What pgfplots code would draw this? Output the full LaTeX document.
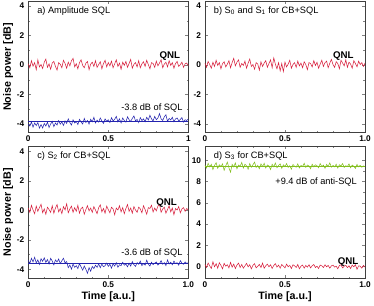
\documentclass[border=0pt]{standalone}
\usepackage{pgfplots}
\pgfplotsset{compat=1.18}
\usepackage{pgfplotstable}
\usepgfplotslibrary{groupplots}
\usepackage{fontspec}
\setmainfont{Liberation Sans}
\definecolor{qred}{RGB}{215,30,60}
\definecolor{sblue}{RGB}{35,35,175}
\definecolor{agreen}{RGB}{130,190,30}

\pgfplotstableread[header=false,row sep=\\]{
0.08\\-0.19\\0.29\\-0.08\\0.16\\-0.32\\0.35\\-0.13\\0.03\\-0.24\\
0.19\\0.40\\-0.16\\0.08\\-0.29\\0.13\\0.24\\-0.10\\-0.35\\0.16\\
0.05\\-0.19\\0.32\\0.10\\-0.22\\0.19\\-0.06\\0.29\\0.45\\-0.13\\
0.08\\-0.26\\0.16\\0.35\\-0.03\\-0.19\\0.13\\0.24\\-0.32\\0.06\\
0.19\\-0.10\\0.29\\-0.16\\0.03\\0.22\\-0.26\\0.10\\0.32\\-0.13\\
0.16\\-0.06\\0.26\\-0.19\\0.08\\0.35\\-0.10\\0.13\\-0.29\\0.19\\
-0.03\\0.24\\-0.16\\0.10\\0.38\\-0.22\\0.05\\0.16\\-0.13\\0.29\\
-0.19\\0.08\\0.22\\-0.10\\0.32\\0.03\\-0.26\\0.16\\0.10\\-0.16\\
0.26\\-0.06\\0.13\\0.35\\-0.19\\0.06\\0.19\\-0.13\\0.29\\-0.03\\
0.16\\-0.22\\0.10\\0.24\\-0.10\\0.03\\0.19\\-0.16\\0.08\\0.13\\-0.06\\
}\qa

\pgfplotstableread[header=false,row sep=\\]{
-4.01\\-4.15\\-3.87\\-4.22\\-3.94\\-4.11\\-3.91\\-4.29\\-4.05\\-4.28\\
-3.97\\-4.15\\-3.88\\-4.25\\-4.01\\-3.83\\-4.19\\-3.94\\-4.08\\-3.77\\
-4.02\\-3.87\\-4.11\\-3.80\\-3.97\\-3.66\\-3.91\\-4.08\\-3.73\\-3.94\\
-3.83\\-4.05\\-3.69\\-3.87\\-4.01\\-3.63\\-3.91\\-3.77\\-4.02\\-3.69\\
-3.86\\-3.55\\-3.94\\-3.74\\-3.88\\-3.60\\-3.80\\-3.97\\-3.66\\-3.83\\
-3.72\\-3.91\\-3.58\\-3.80\\-3.69\\-3.49\\-3.86\\-3.66\\-3.94\\-3.60\\
-3.77\\-3.88\\-3.52\\-3.72\\-3.83\\-3.63\\-3.46\\-3.80\\-3.69\\-3.91\\
-3.58\\-3.77\\-3.66\\-3.86\\-3.55\\-3.74\\-3.41\\-3.66\\-3.80\\-3.49\\
-3.72\\-3.60\\-3.30\\-3.66\\-3.77\\-3.52\\-3.38\\-3.83\\-3.63\\-3.74\\
-3.55\\-3.86\\-3.66\\-3.60\\-3.80\\-3.69\\-3.58\\-3.88\\-3.72\\-3.77\\-3.66\\
}\ba

\pgfplotstableread[header=false,row sep=\\]{
0.13\\-0.16\\0.24\\0.03\\-0.22\\0.19\\-0.10\\0.32\\-0.03\\0.16\\
-0.26\\0.10\\0.22\\-0.13\\0.06\\0.29\\-0.19\\0.16\\0.45\\-0.06\\
0.19\\0.35\\-0.16\\0.10\\-0.03\\0.26\\-0.22\\0.13\\0.40\\-0.10\\
0.03\\-0.29\\0.16\\0.06\\-0.35\\0.22\\-0.10\\0.13\\0.29\\-0.16\\
0.10\\0.35\\-0.19\\0.48\\0.06\\-0.26\\0.16\\-0.40\\0.10\\-0.45\\
0.19\\-0.13\\0.06\\0.32\\-0.22\\0.03\\0.16\\-0.16\\0.26\\-0.06\\
0.13\\-0.19\\0.22\\0.03\\-0.32\\0.16\\0.10\\-0.13\\0.29\\-0.03\\
0.19\\-0.22\\0.06\\0.32\\-0.10\\0.16\\0.26\\-0.19\\0.13\\0.38\\
0.03\\-0.16\\0.22\\0.10\\-0.26\\0.32\\0.13\\-0.06\\0.35\\-0.16\\
0.19\\0.06\\-0.22\\0.29\\0.10\\-0.13\\0.26\\0.03\\0.16\\-0.10\\0.13\\
}\qb

\pgfplotstableread[header=false,row sep=\\]{
0.16\\-0.13\\0.35\\0.03\\-0.22\\0.29\\-0.06\\0.19\\0.42\\-0.16\\
0.10\\-0.26\\0.22\\0.06\\-0.13\\0.32\\-0.19\\0.16\\0.40\\-0.10\\
0.13\\-0.22\\0.26\\0.03\\0.45\\-0.16\\0.10\\0.29\\-0.13\\0.19\\
-0.06\\0.35\\-0.19\\0.13\\0.22\\-0.26\\0.06\\0.32\\-0.03\\0.16\\
-0.13\\0.26\\0.03\\-0.22\\0.19\\0.38\\-0.10\\0.13\\-0.19\\0.29\\
0.06\\-0.16\\0.22\\0.10\\-0.29\\0.16\\0.03\\0.32\\-0.10\\0.19\\
-0.22\\0.13\\0.40\\-0.06\\0.16\\-0.19\\0.26\\0.03\\-0.13\\0.22\\
0.10\\-0.16\\0.32\\0.06\\-0.26\\0.19\\0.13\\0.35\\-0.10\\0.16\\
-0.03\\0.29\\0.42\\-0.13\\0.10\\0.22\\-0.19\\0.06\\0.32\\-0.10\\
0.16\\-0.29\\0.13\\0.03\\0.26\\-0.16\\0.10\\0.19\\-0.06\\0.13\\0.03\\
}\qc

\pgfplotstableread[header=false,row sep=\\]{
-3.39\\-3.60\\-3.25\\-3.50\\-3.18\\-3.56\\-3.36\\-3.67\\-3.28\\-3.46\\
-3.22\\-3.53\\-3.33\\-3.64\\-3.25\\-3.44\\-3.70\\-3.36\\-3.50\\-3.30\\
-3.61\\-3.42\\-3.25\\-3.56\\-3.47\\-3.89\\-3.71\\-3.99\\-3.64\\-3.86\\
-3.75\\-3.95\\-3.61\\-3.84\\-4.06\\-3.78\\-4.00\\-4.27\\-3.89\\-4.13\\
-3.81\\-3.95\\-3.72\\-3.86\\-3.64\\-3.89\\-3.64\\-3.83\\-3.75\\-3.58\\
-3.80\\-3.66\\-3.92\\-3.61\\-3.78\\-3.55\\-3.86\\-3.69\\-3.75\\-3.52\\
-3.72\\-3.64\\-3.83\\-3.58\\-3.78\\-3.47\\-3.69\\-3.80\\-3.55\\-3.66\\
-3.44\\-3.75\\-3.61\\-3.72\\-3.38\\-3.64\\-3.78\\-3.52\\-3.69\\-3.58\\
-3.50\\-3.72\\-3.61\\-3.41\\-3.66\\-3.55\\-3.75\\-3.36\\-3.64\\-3.52\\
-3.69\\-3.44\\-3.61\\-3.55\\-3.72\\-3.41\\-3.58\\-3.66\\-3.50\\-3.61\\-3.55\\
}\bc

\pgfplotstableread[header=false,row sep=\\]{
0.19\\-0.10\\0.32\\0.06\\-0.19\\0.45\\-0.03\\0.26\\-0.16\\0.35\\
0.10\\-0.22\\0.29\\0.03\\0.16\\-0.13\\0.38\\-0.06\\0.22\\-0.19\\
0.13\\0.32\\-0.10\\0.19\\-0.16\\0.06\\0.29\\-0.03\\0.16\\-0.22\\
0.10\\0.26\\-0.13\\0.03\\0.19\\-0.10\\0.32\\-0.16\\0.06\\0.22\\
-0.03\\0.16\\-0.19\\0.10\\0.26\\-0.06\\0.13\\-0.16\\0.19\\0.03\\
-0.13\\0.22\\-0.03\\0.10\\-0.19\\0.16\\0.06\\-0.10\\0.19\\-0.22\\
0.03\\0.13\\-0.16\\0.10\\-0.06\\0.16\\-0.13\\0.06\\0.19\\-0.10\\
0.03\\-0.19\\0.13\\0.06\\-0.10\\0.16\\-0.03\\0.10\\-0.16\\0.06\\
0.13\\-0.06\\0.03\\-0.22\\0.10\\0.16\\-0.13\\0.03\\0.10\\-0.10\\
0.06\\-0.19\\0.13\\-0.03\\0.16\\-0.26\\0.06\\0.03\\-0.16\\0.10\\-0.06\\
}\qd

\pgfplotstableread[header=false,row sep=\\]{
9.54\\9.26\\9.71\\9.37\\9.61\\9.12\\9.51\\9.76\\9.23\\9.57\\
9.40\\9.65\\9.05\\9.47\\9.82\\9.29\\8.87\\9.61\\9.37\\9.74\\
9.19\\9.54\\9.43\\9.79\\9.26\\9.62\\9.46\\9.15\\9.68\\9.34\\
9.57\\9.82\\9.32\\9.51\\9.20\\9.65\\9.40\\9.71\\9.26\\9.54\\
9.46\\9.12\\9.62\\9.37\\9.74\\9.29\\9.51\\9.65\\9.23\\9.57\\
9.40\\9.68\\9.32\\9.48\\9.15\\9.60\\9.43\\9.34\\9.65\\9.26\\
9.51\\9.40\\9.71\\9.32\\9.54\\9.46\\9.20\\9.62\\9.37\\9.57\\
9.48\\9.29\\9.68\\9.40\\9.54\\9.23\\9.60\\9.43\\9.74\\9.34\\
9.51\\9.37\\9.62\\9.26\\9.57\\9.46\\9.68\\9.32\\9.48\\9.40\\
9.65\\9.29\\9.54\\9.43\\9.23\\9.60\\9.37\\9.51\\9.34\\9.46\\9.40\\
}\gd

\begin{document}
\begin{tikzpicture}
\begin{groupplot}[
  group style={group size=2 by 2, horizontal sep=17bp, vertical sep=14bp},
  scale only axis, width=164bp, height=135bp,
  xmin=0, xmax=1, ymin=-4.6, ymax=4.35,
  tick align=inside, tick pos=both,
  xtick={0,0.5,1}, xticklabels={0,0.5,1.0},
  ytick={-4,-2,0,2,4},
  minor x tick num=4, minor y tick num=1,
  major tick length=3bp, minor tick length=1.6bp,
  /pgf/number format/assume math mode=true,
  tick label style={font=\fontsize{8.5}{9}\selectfont\bfseries},
  label style={font=\fontsize{11}{12}\selectfont\bfseries},
  yticklabel style={xshift=-0.5bp},
  ylabel style={yshift=-3bp},
  xlabel style={yshift=2bp},
  every axis plot/.append style={line width=0.55pt, no marks},
  axis line style={line width=0.5pt, black!75},
]
% a
\nextgroupplot[xticklabels={0,0.5,1}, ylabel={Noise power [dB]}]
\addplot[qred] table[x expr=\coordindex/100, y index=0]{\qa};
\addplot[sblue] table[x expr=\coordindex/100, y index=0]{\ba};
\addplot[sblue] coordinates {(0,-3.8) (1,-3.8)};
\node[anchor=north west, font=\fontsize{9.5}{10}\selectfont] at (rel axis cs:0.035,0.985) {a) Amplitude SQL};
\node[anchor=base east, font=\fontsize{10}{10}\selectfont\bfseries] at (axis cs:0.97,0.45) {QNL};
\node[anchor=base east, font=\fontsize{9.5}{10}\selectfont] at (axis cs:0.985,-3.08) {-3.8 dB of SQL};
% b
\nextgroupplot
\addplot[qred] table[x expr=\coordindex/100, y index=0]{\qb};
\node[anchor=north west, font=\fontsize{9.5}{10}\selectfont] at (rel axis cs:0.035,0.985) {b) S\textsubscript{0} and S\textsubscript{1} for CB+SQL};
\node[anchor=base east, font=\fontsize{10}{10}\selectfont\bfseries] at (axis cs:0.95,0.45) {QNL};
% c
\nextgroupplot[ylabel={Noise power [dB]}, xlabel={Time [a.u.]}]
\addplot[qred] table[x expr=\coordindex/100, y index=0]{\qc};
\addplot[sblue] table[x expr=\coordindex/100, y index=0]{\bc};
\addplot[sblue] coordinates {(0,-3.6) (1,-3.6)};
\node[anchor=north west, font=\fontsize{9.5}{10}\selectfont] at (rel axis cs:0.035,0.985) {c) S\textsubscript{2} for CB+SQL};
\node[anchor=base east, font=\fontsize{10}{10}\selectfont\bfseries] at (axis cs:0.95,0.35) {QNL};
\node[anchor=base east, font=\fontsize{9.5}{10}\selectfont] at (axis cs:0.985,-3.08) {-3.6 dB of SQL};
% d
\nextgroupplot[xlabel={Time [a.u.]}, ymin=-1.1, ymax=11.3, ytick={0,2,4,6,8,10}]
\addplot[qred] table[x expr=\coordindex/100, y index=0]{\qd};
\addplot[agreen] table[x expr=\coordindex/100, y index=0]{\gd};
\addplot[agreen] coordinates {(0,9.4) (1,9.4)};
\node[anchor=north west, font=\fontsize{9.5}{10}\selectfont] at (rel axis cs:0.035,0.985) {d) S\textsubscript{3} for CB+SQL};
\node[anchor=base east, font=\fontsize{9.5}{10}\selectfont] at (axis cs:0.97,7.7) {+9.4 dB of anti-SQL};
\node[anchor=base east, font=\fontsize{10}{10}\selectfont\bfseries] at (axis cs:0.98,0.2) {QNL};
\end{groupplot}
\end{tikzpicture}
\end{document}
